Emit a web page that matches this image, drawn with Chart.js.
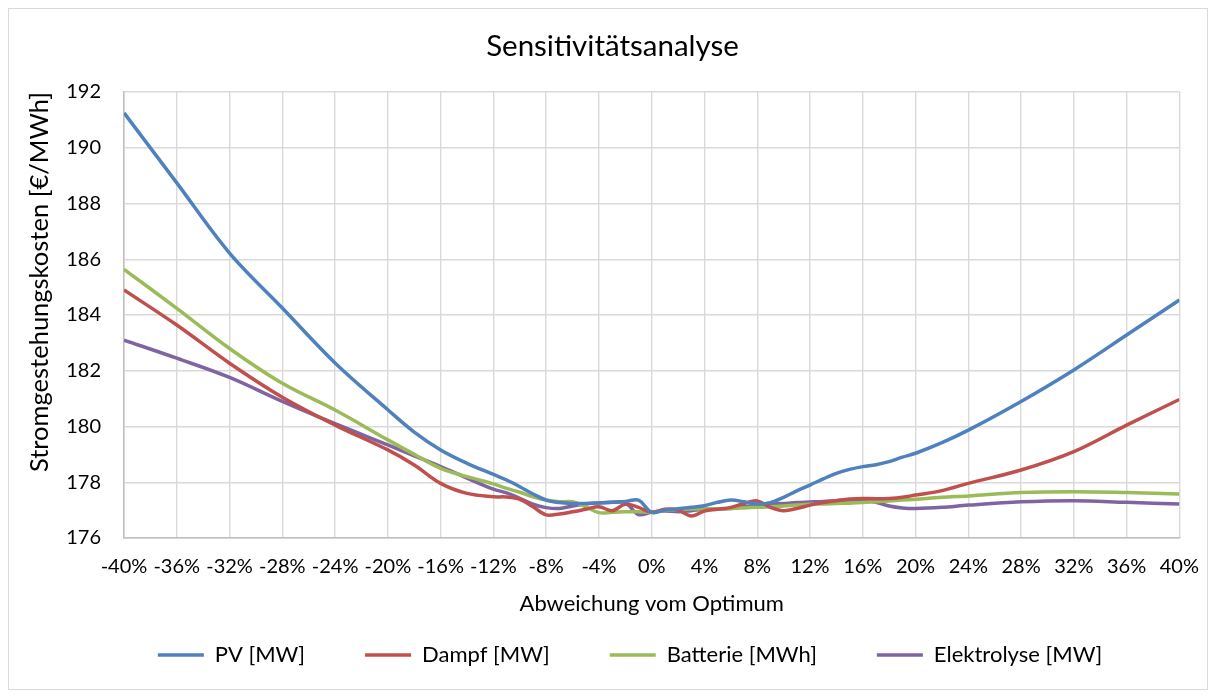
<!DOCTYPE html>
<html>
<head>
<meta charset="utf-8">
<script src="https://cdn.jsdelivr.net/npm/chart.js@4"></script>
<style>
html,body{margin:0;padding:0;background:#fff;}
#wrap{position:relative;width:1216px;height:697px;}
#frame{position:absolute;left:8px;top:8px;width:1200px;height:682px;border:1px solid #d9d9d9;box-sizing:border-box;}
canvas{position:absolute;left:0;top:0;}
</style>
</head>
<body>
<div id="wrap"><div id="frame"></div><canvas id="c" width="1216" height="697"></canvas></div>
<script>
const chartTitle = 'Sensitivitätsanalyse';
const xAxisTitle = 'Abweichung vom Optimum';
const yAxisTitle = 'Stromgestehungskosten [€/MWh]';
const seriesNames = ['PV [MW]', 'Dampf [MW]', 'Batterie [MWh]', 'Elektrolyse [MW]'];

// deviation from optimum in %
const deviation = [-40,-36,-32,-28,-24,-20,-18,-16,-14,-12,-11,-10,-9,-8,-7,-6,-5,-4,-3,-2,-1,0,1,2,3,4,5,6,7,8,9,10,11,12,13,14,15,16,17,18,19,20,22,24,28,32,36,40];

const pv = [191.25,188.74,186.22,184.25,182.28,180.6,179.8,179.16,178.68,178.28,178.08,177.84,177.58,177.36,177.27,177.24,177.24,177.26,177.28,177.31,177.36,176.92,177.0,177.05,177.1,177.16,177.28,177.36,177.3,177.22,177.27,177.46,177.69,177.9,178.12,178.32,178.46,178.56,178.63,178.74,178.9,179.04,179.42,179.87,180.9,182.03,183.28,184.54];

const dampf = [184.9,183.64,182.27,181.05,180.05,179.16,178.62,177.96,177.6,177.48,177.47,177.39,177.12,176.83,176.86,176.94,177.03,177.12,176.98,177.21,177.1,176.92,177.03,177.0,176.79,176.97,177.03,177.1,177.24,177.33,177.1,176.98,177.06,177.18,177.27,177.34,177.4,177.42,177.41,177.42,177.46,177.54,177.7,177.96,178.44,179.1,180.05,180.97];

const batterie = [185.64,184.24,182.8,181.55,180.59,179.52,179.0,178.5,178.2,177.94,177.78,177.64,177.48,177.36,177.3,177.3,177.12,176.91,176.92,176.94,176.94,176.92,176.99,177.02,177.04,177.05,177.05,177.06,177.08,177.1,177.12,177.15,177.18,177.21,177.22,177.24,177.25,177.27,177.3,177.33,177.36,177.39,177.46,177.51,177.63,177.66,177.63,177.58];

const elektrolyse = [183.1,182.45,181.76,180.9,180.1,179.34,178.95,178.56,178.15,177.75,177.62,177.42,177.21,177.09,177.06,177.15,177.22,177.26,177.28,177.27,176.84,176.93,176.97,176.94,176.98,177.03,177.04,177.06,177.12,177.18,177.21,177.24,177.27,177.29,177.31,177.34,177.36,177.36,177.28,177.15,177.08,177.06,177.1,177.18,177.3,177.34,177.28,177.22];

const yTicksMin = 176, yTicksMax = 192, yStep = 2;
const xTicksMin = -40, xTicksMax = 40, xStep = 4;

const colors = ['#4F81BD', '#C0504D', '#9BBB59', '#8064A2'];
const allSeries = [pv, dampf, batterie, elektrolyse];

Chart.defaults.font.family = 'Lato, "Open Sans", sans-serif';
Chart.defaults.color = '#000';

const datasets = allSeries.map((vals, i) => ({
  label: seriesNames[i],
  data: deviation.map((d, j) => ({x: d, y: vals[j]})),
  borderColor: colors[i],
  backgroundColor: colors[i],
  borderWidth: 3.5,
  pointRadius: 0,
  tension: 0.35,
  fill: false
}));

// shift the legend row so that it sits where the original legend is
const legendShift = {
  id: 'legendShift',
  beforeDraw(chart) {
    if (chart.legend) { chart.legend.left = 79; }
  }
};

new Chart(document.getElementById('c'), {
  type: 'line',
  data: { datasets },
  plugins: [legendShift],
  options: {
    responsive: false,
    animation: false,
    layout: { padding: { left: 44, right: 35, top: 0, bottom: 21 } },
    plugins: {
      title: {
        display: true, text: chartTitle, color: '#000',
        font: { size: 29.5, weight: 'normal' },
        padding: { top: 28.3, bottom: 28.3 }
      },
      legend: {
        position: 'bottom',
        labels: {
          usePointStyle: true, pointStyle: 'line', pointStyleWidth: 46,
          padding: 60, color: '#000', font: { size: 22 }
        }
      },
      tooltip: { enabled: false }
    },
    scales: {
      x: {
        type: 'linear', min: xTicksMin, max: xTicksMax,
        ticks: { stepSize: xStep, callback: v => v + '%', padding: 17, maxRotation: 0, autoSkip: false, color: '#000', font: { size: 20 } },
        grid: { color: '#d9d9d9', lineWidth: 1.4, drawTicks: false },
        border: { color: '#bfbfbf', width: 1.5 },
        title: { display: true, text: xAxisTitle, color: '#000', font: { size: 22 }, padding: { top: 11.8, bottom: -33.2 } },
        afterFit: s => { s.height = 46; }
      },
      y: {
        min: yTicksMin, max: yTicksMax,
        ticks: { stepSize: yStep, padding: 23, color: '#000', font: { size: 20 } },
        grid: { color: '#d9d9d9', lineWidth: 1.4, drawTicks: false },
        border: { color: '#bfbfbf', width: 1.5 },
        title: { display: true, text: yAxisTitle, align: 'end', color: '#000', font: { size: 25.5 }, padding: { top: -19.3, bottom: 0 } },
        afterFit: s => { s.width = 80; }
      }
    }
  }
});
</script>
</body>
</html>
